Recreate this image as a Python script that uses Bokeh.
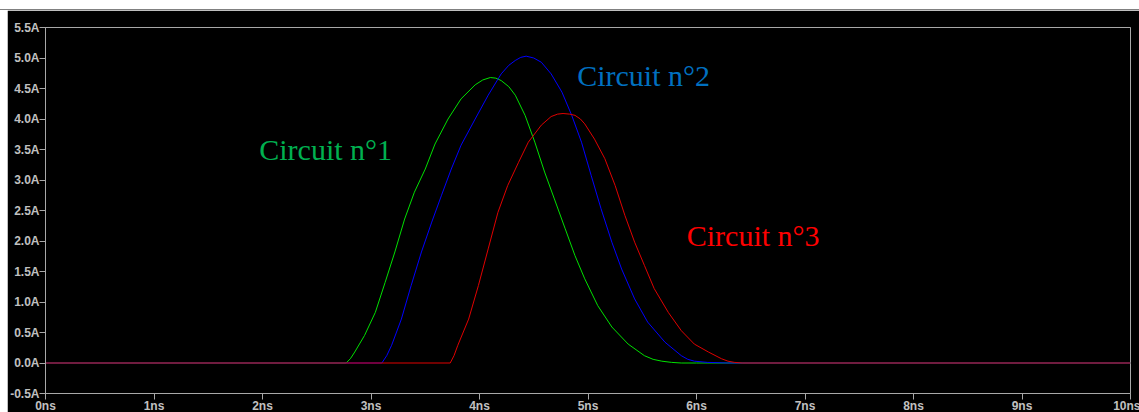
from bokeh.plotting import figure
from bokeh.models import FixedTicker, Label, Spacer
from bokeh.layouts import column
from bokeh.embed import file_html
from bokeh.resources import INLINE

# ---- data ----
t_d10 = [0, 2.77, 2.81, 2.85, 2.94, 3.04, 3.13, 3.22, 3.31, 3.40, 3.50, 3.59, 3.71, 3.83,
         3.96, 4.03, 4.10, 4.15, 4.20, 4.27, 4.33, 4.42, 4.51, 4.60, 4.69, 4.79, 4.88,
         4.97, 5.09, 5.22, 5.37, 5.52, 5.60, 5.68, 5.77, 5.86, 6.0, 10]
i_d10 = [0, 0, 0.07, 0.18, 0.45, 0.83, 1.32, 1.82, 2.36, 2.80, 3.18, 3.59, 4.00, 4.33,
         4.56, 4.64, 4.68, 4.67, 4.63, 4.53, 4.39, 4.06, 3.62, 3.13, 2.69, 2.20, 1.76,
         1.38, 0.94, 0.59, 0.31, 0.12, 0.06, 0.03, 0.01, 0.0, 0, 0]

t_d7 = [0, 3.10, 3.145, 3.19, 3.28, 3.37, 3.465, 3.56, 3.65, 3.74, 3.83, 3.96, 4.08, 4.20,
        4.27, 4.33, 4.38, 4.43, 4.50, 4.57, 4.66, 4.76, 4.85, 4.94, 5.03, 5.12, 5.22,
        5.31, 5.43, 5.55, 5.71, 5.86, 5.92, 5.98, 6.10, 6.29, 10]
i_d7 = [0, 0, 0.12, 0.29, 0.72, 1.27, 1.82, 2.31, 2.75, 3.18, 3.57, 4.00, 4.39, 4.74,
        4.88, 4.96, 5.01, 5.03, 5.00, 4.93, 4.74, 4.44, 4.06, 3.62, 3.07, 2.53, 1.98,
        1.54, 1.05, 0.67, 0.34, 0.12, 0.06, 0.03, 0.01, 0, 0]

t_d1 = [0, 3.73, 3.765, 3.80, 3.90, 3.99, 4.08, 4.17, 4.26, 4.36, 4.45, 4.57, 4.66, 4.72,
        4.77, 4.83, 4.88, 4.93, 4.97, 5.06, 5.155, 5.25, 5.34, 5.43, 5.52, 5.61, 5.74,
        5.86, 5.98, 6.11, 6.23, 6.29, 6.35, 6.42, 10]
i_d1 = [0, 0, 0.12, 0.29, 0.72, 1.27, 1.87, 2.47, 2.91, 3.29, 3.62, 3.90, 4.04, 4.08,
        4.09, 4.08, 4.06, 4.00, 3.92, 3.67, 3.35, 2.91, 2.42, 1.98, 1.60, 1.22, 0.83,
        0.53, 0.31, 0.18, 0.07, 0.03, 0.01, 0, 0]

x_ticks = [0, 1, 2, 3, 4, 5, 6, 7, 8, 9, 10]
x_tick_labels = ["0ns", "1ns", "2ns", "3ns", "4ns", "5ns", "6ns", "7ns", "8ns", "9ns", "10ns"]
y_ticks = [-0.5, 0.0, 0.5, 1.0, 1.5, 2.0, 2.5, 3.0, 3.5, 4.0, 4.5, 5.0, 5.5]
y_tick_labels = ["-0.5A", "0.0A", "0.5A", "1.0A", "1.5A", "2.0A", "2.5A", "3.0A",
                 "3.5A", "4.0A", "4.5A", "5.0A", "5.5A"]

trace_names = ["I(D10)", "I(D7)", "I(D1)"]
trace_label_x = [1.66, 4.99, 8.32]
circuit_names = ["Circuit n°1", "Circuit n°2", "Circuit n°3"]
circuit_x = [1.97, 4.90, 5.91]
circuit_y = [3.50, 4.72, 2.09]

# ---- styles ----
trace_colors = ["#00FF00", "#0000FF", "#FF0000"]
line_colors = ["#00E000", "#0000FF", "#E00000"]
circuit_colors = ["#00B050", "#0070C0", "#FF0000"]
axis_gray = "#A8A8A8"
label_gray = "#C0C0C0"

p = figure(frame_width=1085, frame_height=366, x_range=(0, 10), y_range=(-0.5, 5.5),
           output_backend="svg", toolbar_location=None,
           min_border_left=37, min_border_right=10, min_border_top=17, min_border_bottom=0)
p.margin = (0, 0, 0, 7)
p.background_fill_color = "black"
p.border_fill_color = "black"
p.outline_line_color = axis_gray
p.outline_line_width = 1
p.xgrid.visible = False
p.ygrid.visible = False

for ax in (p.xaxis[0], p.yaxis[0]):
    ax.axis_line_color = axis_gray
    ax.major_tick_line_color = axis_gray
    ax.minor_tick_line_color = None
    ax.major_tick_in = 0
    ax.major_tick_out = 6
    ax.major_label_text_color = label_gray
    ax.major_label_text_font = "Liberation Sans"
    ax.major_label_text_font_style = "bold"
    ax.major_label_text_font_size = "12px"

p.xaxis.ticker = FixedTicker(ticks=x_ticks)
p.xaxis.major_label_overrides = {t: s for t, s in zip(x_ticks, x_tick_labels)}
p.xaxis.major_label_standoff = -1
p.yaxis.ticker = FixedTicker(ticks=y_ticks)
p.yaxis.major_label_overrides = {t: s for t, s in zip(y_ticks, y_tick_labels)}
p.yaxis.major_label_standoff = 0

p.line(t_d10, i_d10, line_color=line_colors[0], line_width=1)
p.line(t_d7, i_d7, line_color=line_colors[1], line_width=1)
p.line(t_d1, i_d1, line_color=line_colors[2], line_width=1)

for name, x, c in zip(trace_names, trace_label_x, trace_colors):
    p.add_layout(Label(x=x, y=5.65, text=name, text_color=c, text_font="Liberation Sans",
                       text_font_style="bold", text_font_size="12px",
                       text_align="center", text_baseline="middle"))

for name, x, y, c in zip(circuit_names, circuit_x, circuit_y, circuit_colors):
    p.add_layout(Label(x=x, y=y, text=name, text_color=c, text_font="Liberation Serif",
                       text_font_size="30px", text_align="left", text_baseline="alphabetic"))

top_white = Spacer(width=1139, height=9)
top_line = Spacer(width=1139, height=1, styles={"background-color": "#808080"})
page = column(top_white, top_line, p)

open("out.html", "w").write(file_html(page, INLINE))
